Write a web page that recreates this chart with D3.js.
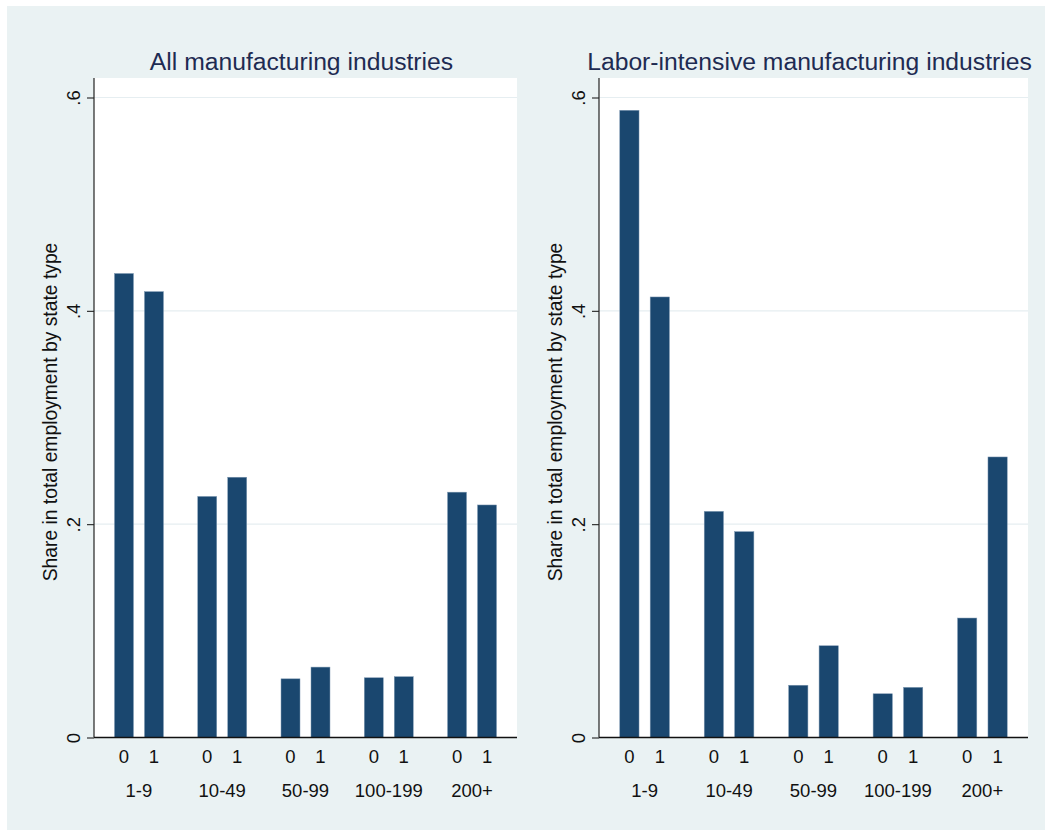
<!DOCTYPE html>
<html>
<head>
<meta charset="utf-8">
<script src="https://cdn.jsdelivr.net/npm/d3@7"></script>
<style>
  html, body { margin: 0; padding: 0; background: #ffffff; }
  svg { display: block; font-family: "Liberation Sans", Arial, Helvetica, sans-serif; }
</style>
</head>
<body>
<svg id="chart" width="1052" height="836"></svg>
<script>
// Establishment size classes (outer grouping) and state type (inner grouping)
const sizeClasses = ["1-9", "10-49", "50-99", "100-199", "200+"];
const stateTypes = ["0", "1"];

// Share in total employment, all manufacturing industries
const allMfgState0 = [0.435, 0.226, 0.055, 0.056, 0.230];
const allMfgState1 = [0.418, 0.244, 0.066, 0.057, 0.218];

// Share in total employment, labor-intensive manufacturing industries
const laborState0 = [0.588, 0.212, 0.049, 0.041, 0.112];
const laborState1 = [0.413, 0.193, 0.086, 0.047, 0.263];

const yTicks = [0, 0.2, 0.4, 0.6];
const yTickLabels = ["0", ".2", ".4", ".6"];
const panelTitles = ["All manufacturing industries", "Labor-intensive manufacturing industries"];
const yAxisTitle = "Share in total employment by state type";

const panels = [
  { title: panelTitles[0], s0: allMfgState0, s1: allMfgState1, left: 94, right: 517 },
  { title: panelTitles[1], s0: laborState0, s1: laborState1, left: 599, right: 1028 }
];

const svg = d3.select("#chart");
const plotTop = 78, plotBottom = 737.5, y06 = 97.5;
const barColor = "#1a476f";
const bgColor = "#eaf2f3";

// Graph background
svg.append("rect")
  .attr("x", 7).attr("y", 6).attr("width", 1038).attr("height", 824)
  .attr("fill", bgColor);

panels.forEach(p => {
  const g = svg.append("g");
  const y = d3.scaleLinear().domain([0, 0.6]).range([plotBottom, y06]);
  const x = d3.scalePoint().domain(sizeClasses).range([p.left, p.right]).padding(0.54);
  const step = x.step();
  const inner = d3.scaleBand().domain(stateTypes)
    .range([-0.294 * step, 0.294 * step]).paddingInner(0.367);

  // Plot region
  g.append("rect")
    .attr("x", p.left).attr("y", plotTop)
    .attr("width", p.right - p.left).attr("height", plotBottom - plotTop)
    .attr("fill", "#ffffff");

  // Horizontal grid lines
  g.selectAll(".grid").data(yTicks.filter(t => t > 0)).join("line")
    .attr("x1", p.left).attr("x2", p.right)
    .attr("y1", d => y(d)).attr("y2", d => y(d))
    .attr("stroke", "#e6eef1").attr("stroke-width", 1.2);

  // Bars
  const rows = [];
  sizeClasses.forEach((c, i) => {
    rows.push({ cls: c, st: "0", v: p.s0[i] });
    rows.push({ cls: c, st: "1", v: p.s1[i] });
  });
  g.selectAll(".bar").data(rows).join("rect")
    .attr("x", d => x(d.cls) + inner(d.st))
    .attr("width", inner.bandwidth())
    .attr("y", d => y(d.v))
    .attr("height", d => y(0) - y(d.v))
    .attr("fill", barColor)
    .attr("stroke", "#7d97b1").attr("stroke-width", 0.5);

  // Y axis with vertical tick labels
  const yAxis = d3.axisLeft(y).tickValues(yTicks)
    .tickFormat((d, i) => yTickLabels[i]).tickSize(7).tickPadding(6);
  const ya = g.append("g").attr("transform", `translate(${p.left},0)`).call(yAxis);
  ya.select(".domain").attr("d", `M0,${plotBottom}V${plotTop}`).attr("stroke", "#222").attr("stroke-width", 1.2);
  ya.selectAll(".tick line").attr("stroke", "#222").attr("stroke-width", 1.1);
  ya.selectAll(".tick text")
    .attr("font-size", 18.5).attr("fill", "#111")
    .attr("text-anchor", "middle")
    .attr("transform", "rotate(-90)")
    .attr("x", 0).attr("y", -14).attr("dy", 0);

  // Baseline
  g.append("line")
    .attr("x1", p.left).attr("x2", p.right)
    .attr("y1", plotBottom).attr("y2", plotBottom)
    .attr("stroke", "#111").attr("stroke-width", 1.5);

  // Inner (state type) labels
  g.selectAll(".stlab").data(rows).join("text")
    .attr("x", d => x(d.cls) + inner(d.st) + inner.bandwidth() / 2)
    .attr("y", 763)
    .attr("text-anchor", "middle")
    .attr("font-size", 18.5).attr("fill", "#111")
    .text(d => d.st);

  // Size class labels
  g.selectAll(".cllab").data(sizeClasses).join("text")
    .attr("x", d => x(d))
    .attr("y", 797)
    .attr("text-anchor", "middle")
    .attr("font-size", 18.5).attr("fill", "#111")
    .text(d => d);

  // Axis title
  const titleX = p.left - 37;
  g.append("text")
    .attr("transform", `translate(${titleX},412) rotate(-90)`)
    .attr("text-anchor", "middle")
    .attr("font-size", 19.3).attr("fill", "#111")
    .text(yAxisTitle);

  // Panel title
  g.append("text")
    .attr("x", (p.left + p.right) / 2 - 4)
    .attr("y", 70)
    .attr("text-anchor", "middle")
    .attr("font-size", 24.7).attr("fill", "#1e2b52")
    .text(p.title);
});
</script>
</body>
</html>
